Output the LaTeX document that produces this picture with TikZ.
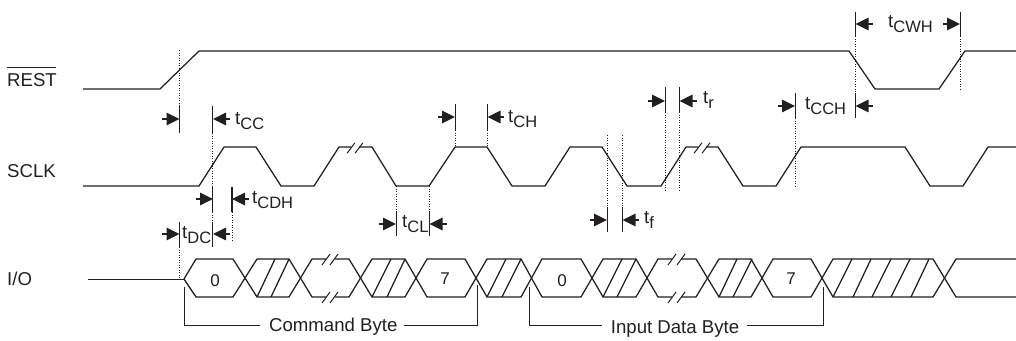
\documentclass[tikz,border=0pt]{standalone}
\usepackage{fontspec}
\setmainfont{Liberation Sans}
\usetikzlibrary{arrows.meta}
\definecolor{ink}{HTML}{231F20}
\newcommand\tsub[1]{t\raisebox{-5pt}{\fontsize{16.5}{16.5}\selectfont #1}}
\tikzset{
  wave/.style={draw=ink,line width=1.25pt,line join=miter},
  slash/.style={draw=ink,line width=1pt},
  bar/.style={draw=ink,line width=1.1pt},
  dot/.style={draw=ink,line width=0.9pt,dash pattern=on 1pt off 1.5pt},
  dimarrow/.style={draw=ink,line width=1.2pt,-{Triangle[length=13pt,width=12.5pt,fill=ink]}},
  lbl/.style={anchor=base west,inner sep=0pt,text=ink,font=\fontsize{18.6}{18.6}\selectfont},
  digit/.style={anchor=base,inner sep=0pt,text=ink,font=\fontsize{17}{17}\selectfont},
}
\begin{document}
\begin{tikzpicture}[x=1pt,y=-1pt]
\useasboundingbox[fill=white] (0,0) rectangle (1016,340);
% signal names
\node[lbl] (rest) at (7,86) {\rlap{\rule[17.7pt]{48.5pt}{1pt}}REST};
\node[lbl] (sclk) at (7,177) {SCLK};
\node[lbl] (io) at (7,285.7) {I/O};
% REST
\draw[wave] (83,89)--(160,89)--(199,51)--(849,51)--(875,89)--(939,89)--(965,51)--(1016,51);
% SCLK
\draw[wave] (83,186)--(199,186)--(224,147)--(256,147)--(281,186)--(314,186)--(339,147)--(351,147);
\draw[wave] (359,147)--(372,147)--(396,186)--(429,186)--(455,147)--(487,147)--(512,186)--(545,186)--(570,147)--(602,147)--(627,186)--(661,186)--(686,147)--(698,147);
\draw[wave] (706,147)--(718,147)--(743,186)--(776,186)--(801,147)--(905,147)--(930,186)--(963,186)--(988,147)--(1016,147);
\foreach \x in {347,355,694,702} \draw[slash] (\x,153.3)--(\x+8,142.7);
% I/O
\draw[wave] (88,279.4)--(184,279.4);
\draw[wave] (184,279)--(196,259)--(233,259)--(257,297)--(289,297)--(312,259)--(326,259);
\draw[wave] (184,279)--(196,297)--(233,297)--(257,259)--(289,259)--(312,297)--(326,297);
\draw[wave] (335,259)--(349,259)--(372,297)--(405,297)--(427,259)--(465,259)--(487,297)--(521,297)--(542,259)--(581,259)--(603,297)--(636,297)--(658,259)--(672,259);
\draw[wave] (335,297)--(349,297)--(372,259)--(405,259)--(427,297)--(465,297)--(487,259)--(521,259)--(542,297)--(581,297)--(603,259)--(636,259)--(658,297)--(672,297);
\draw[wave] (681,259)--(696,259)--(719,297)--(751,297)--(773,259)--(811,259)--(833,297)--(933,297)--(956,259)--(1016,259);
\draw[wave] (681,297)--(696,297)--(719,259)--(751,259)--(773,297)--(811,297)--(833,259)--(933,259)--(956,297)--(1016,297);
\foreach \x in {322,330,668,677} {
  \draw[slash] (\x,265)--(\x+8,254);
  \draw[slash] (\x,303)--(\x+8,292);
}
\foreach \x/\w in {257/18,271/18,372/19,387/18,487/19,502/19,603/19,617/19,719/18,733/19,833/19,853/18,872/19,891/19,911/18}
  \draw[wave] (\x,297)--(\x+\w,259);
% digits
\node[digit] (d0a) at (215,286.5) {0};
\node[digit] (d7a) at (445,284) {7};
\node[digit] (d0b) at (562,286.5) {0};
\node[digit] (d7b) at (791,284) {7};
% dotted guides
\draw[dot] (179.5,50)--(179.5,106);
\draw[dot] (179.5,247)--(179.5,279);
\draw[dot] (212.9,133)--(212.9,187);
\draw[dot] (212.9,212)--(212.9,222);
\draw[dot] (232,212)--(232,242);
\draw[dot] (396,186)--(396,212);
\draw[dot] (429,186)--(429,212);
\draw[dot] (455,130)--(455,147);
\draw[dot] (487,130)--(487,147);
\draw[dot] (607,135)--(607,207);
\draw[dot] (622,135)--(622,207);
\draw[dot] (665,112)--(665,190);
\draw[dot] (679,112)--(679,190);
\draw[dot] (795,118)--(795,187);
\draw[dot] (855,36)--(855,93);
\draw[dot] (960,36)--(960,89);
% solid extension bars
\foreach \x/\a/\b in {179.5/106/133,212.9/106/133,212.9/187/212,232/187/212,179.5/222/247,212.9/222/247,
  396.5/212/236,429.5/212/236,455.5/104/130,487.5/104/130,607.5/207/232,622.5/207/232,665.5/87/112,679.5/87/112,
  795.5/93/118,855.5/93/118,855.5/12/36,960.5/12/36}
  \draw[bar] (\x,\a)--(\x,\b);
% dimension arrows
\foreach \a/\b/\y in {162/179.5/119,230/213/119,196/213/199,249/232/199,162/179.5/234,230/213/234,
  379/396/224,447/429.5/224,438/455/117,504/487.5/117,590/607/220,639/622.5/220,648/665/101,697/679.5/101,
  778/795/106,873/855.5/106,873/855.5/24,943/960/24}
  \draw[dimarrow] (\a,\y)--(\b,\y);
% timing labels
\node[lbl] (tcc) at (235,124) {\tsub{CC}};
\node[lbl] (tcdh) at (252,203) {\tsub{CDH}};
\node[lbl] (tdc) at (182,238) {\tsub{DC}};
\node[lbl] (tcl) at (402,227) {\tsub{CL}};
\node[lbl] (tch) at (508,122) {\tsub{CH}};
\node[lbl] (tf) at (644,223) {\tsub{f}};
\node[lbl] (tr) at (703,103) {\tsub{r}};
\node[lbl] (tcch) at (805,109) {\tsub{CCH}};
\node[lbl] (tcwh) at (888,27.5) {\tsub{CWH}};
% byte brackets
\node[lbl] (cmd) at (269,331.7) {Command Byte};
\node[lbl] (inp) at (610.7,333) {Input Data Byte};
\draw[bar] (184.5,287)--(184.5,325.5)--(260,325.5);
\draw[bar] (404,325.5)--(477.5,325.5)--(477.5,285);
\draw[bar] (529.5,287)--(529.5,325.5)--(602,325.5);
\draw[bar] (747,325.5)--(823.5,325.5)--(823.5,287);
\end{tikzpicture}
\end{document}
